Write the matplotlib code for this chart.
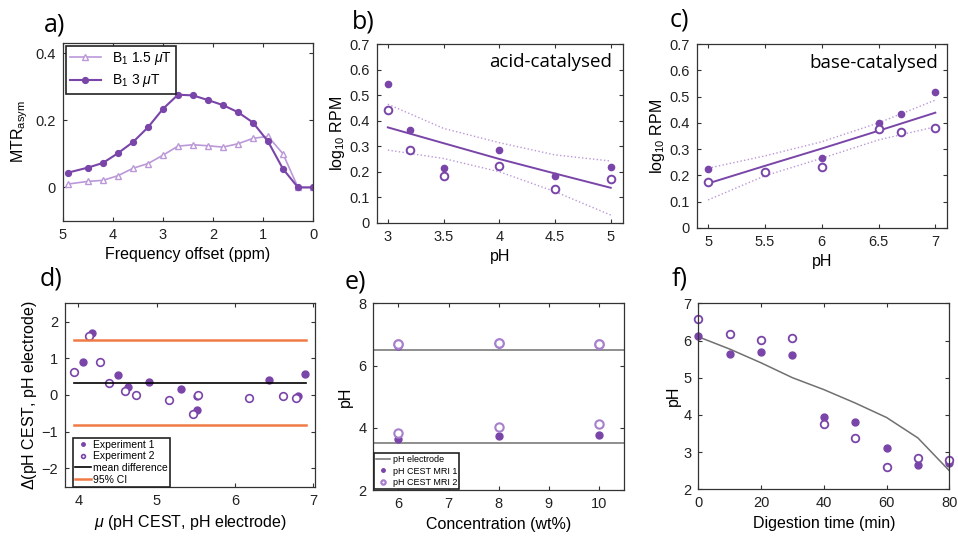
import numpy as np
import matplotlib
matplotlib.use("Agg")
import matplotlib.pyplot as plt

plt.rcParams['font.family'] = ['Liberation Sans', 'DejaVu Sans']
plt.rcParams['mathtext.fontset'] = 'custom'
plt.rcParams['mathtext.rm'] = 'Liberation Sans'
plt.rcParams['mathtext.it'] = 'Liberation Sans:italic'

DARK = '#7a45a8'
LIGHT = '#bb98d8'
GREY = '#707070'
ORANGE = '#f07a45'

# a) MTR asymmetry spectra
offset = [4.9, 4.5, 4.2, 3.9, 3.6, 3.3, 3.0, 2.7, 2.4, 2.1, 1.8, 1.5, 1.2, 0.9, 0.6, 0.3, 0.0]
mtr_b1_15 = [0.010, 0.018, 0.021, 0.035, 0.057, 0.071, 0.096, 0.123, 0.127, 0.124, 0.120,
             0.130, 0.146, 0.152, 0.100, 0.0, 0.0]
mtr_b1_3 = [0.044, 0.059, 0.073, 0.102, 0.135, 0.179, 0.234, 0.276, 0.274, 0.260, 0.245,
            0.224, 0.193, 0.137, 0.055, 0.0, 0.0]

# b) acid-catalysed exchange
ph_acid = [3, 3.2, 3.5, 4, 4.5, 5]
rpm_acid_1 = [0.544, 0.364, 0.216, 0.285, 0.183, 0.220]
rpm_acid_2 = [0.442, 0.285, 0.183, 0.224, 0.132, 0.170]
fit_acid_x = [3, 3.5, 4, 4.5, 5]
fit_acid = [0.374, 0.312, 0.250, 0.193, 0.137]
fit_acid_hi = [0.465, 0.370, 0.314, 0.266, 0.242]
fit_acid_lo = [0.285, 0.252, 0.200, 0.122, 0.030]

# c) base-catalysed exchange
ph_base = [5, 5.5, 6, 6.5, 6.7, 7]
rpm_base_1 = [0.223, 0.214, 0.267, 0.400, 0.433, 0.517]
rpm_base_2 = [0.173, 0.214, 0.233, 0.377, 0.366, 0.379]
fit_base_x = [5, 5.5, 6, 6.5, 7]
fit_base = [0.169, 0.236, 0.302, 0.370, 0.439]
fit_base_hi = [0.227, 0.274, 0.328, 0.400, 0.487]
fit_base_lo = [0.106, 0.198, 0.265, 0.335, 0.385]

# d) Bland-Altman
mean_1 = [4.06, 4.17, 4.50, 4.63, 4.90, 5.31, 5.52, 5.52, 6.43, 6.80, 6.89]
diff_1 = [0.91, 1.70, 0.55, 0.21, 0.35, 0.15, -0.03, -0.41, 0.41, -0.03, 0.56]
mean_2 = [3.94, 4.14, 4.28, 4.39, 4.59, 4.73, 5.16, 5.46, 5.53, 6.18, 6.61, 6.78]
diff_2 = [0.62, 1.62, 0.91, 0.32, 0.12, -0.01, -0.14, -0.53, -0.01, -0.07, -0.03, -0.07]
mean_diff = 0.34
ci_hi = 1.49
ci_lo = -0.83
ba_span = [3.94, 6.90]

# e) pH vs concentration
conc = [6, 8, 10]
ph_electrode_e = [6.5, 3.5]
ph_mri1_hi = [6.64, 6.70, 6.66]
ph_mri1_lo = [3.63, 3.72, 3.78]
ph_mri2_hi = [6.68, 6.74, 6.70]
ph_mri2_lo = [3.84, 4.03, 4.12]

# f) digestion
t_dig = [0, 10, 20, 30, 40, 50, 60, 70, 80]
ph_electrode_f = [6.10, 5.77, 5.40, 5.00, 4.68, 4.32, 3.93, 3.38, 2.50]
ph_cest_1 = [6.13, 5.63, 5.69, 5.60, 3.94, 3.81, 3.12, 2.66, 2.70]
ph_cest_2 = [6.57, 6.18, 6.01, 6.08, 3.76, 3.37, 2.60, 2.85, 2.79]


def style(ax):
  ax.tick_params(direction='in', top=True, right=True, labelsize=10.5, length=3,
                 color='#333333', labelcolor='#222222', pad=5)
  for s in ax.spines.values():
    s.set_color('#333333')
    s.set_linewidth(0.9)


def panel_letter(x, y, txt):
  fig.text(x / 958, 1 - y / 539, txt, fontsize=18, family='Open Sans', va='center', ha='left')


fig = plt.figure(figsize=(9.58, 5.39), dpi=100)

# a
ax = fig.add_axes([63 / 958, 1 - 221 / 539, 250 / 958, 178 / 539])
ax.plot(offset, mtr_b1_15, '-^', color=LIGHT, mfc='white', mec=LIGHT, ms=5, lw=1.2,
        label=r'B$_1$ 1.5 $\mu$T')
ax.plot(offset, mtr_b1_3, '-o', color=DARK, ms=4.2, lw=1.5, label=r'B$_1$ 3 $\mu$T')
ax.set_xlim(5, 0)
ax.set_ylim(-0.1, 0.43)
ax.set_yticks([0, 0.2, 0.4])
ax.set_yticklabels(['0', '0.2', '0.4'])
ax.set_xticks([5, 4, 3, 2, 1, 0])
ax.set_ylabel(r'MTR$_{\mathrm{asym}}$', fontsize=11.5)
ax.set_xlabel('Frequency offset (ppm)', fontsize=11.5)
leg = ax.legend(loc='upper left', fontsize=10, borderaxespad=0.2, handlelength=2.2,
                fancybox=False, framealpha=1, edgecolor='#222222', borderpad=0.3,
                labelspacing=0.4)
leg.get_frame().set_linewidth(1.2)
style(ax)
panel_letter(44, 25, 'a)')

# b
ax = fig.add_axes([376.7 / 958, 1 - 222.7 / 539, 246.3 / 958, 178.4 / 539])
ax.plot(fit_acid_x, fit_acid_hi, ':', color=LIGHT, lw=1)
ax.plot(fit_acid_x, fit_acid_lo, ':', color=LIGHT, lw=1)
ax.plot(fit_acid_x, fit_acid, '-', color=DARK, lw=1.4)
ax.plot(ph_acid, rpm_acid_1, 'o', color=DARK, ms=4.5)
ax.plot(ph_acid, rpm_acid_2, 'o', mfc='white', mec=DARK, mew=1.4, ms=5.5)
ax.set_xlim(2.9, 5.11)
ax.set_ylim(0, 0.7)
ax.set_xticks([3, 3.5, 4, 4.5, 5])
ax.set_xticklabels(['3', '3.5', '4', '4.5', '5'])
ax.set_yticks(np.arange(0, 0.71, 0.1))
ax.set_yticklabels(['0', '0.1', '0.2', '0.3', '0.4', '0.5', '0.6', '0.7'])
ax.set_ylabel(r'log$_{10}$ RPM', fontsize=11.5, labelpad=2)
ax.set_xlabel('pH', fontsize=11.5)
ax.text(0.955, 0.9, 'acid-catalysed', transform=ax.transAxes, ha='right', va='center',
        fontsize=13.5, family='Open Sans')
style(ax)
panel_letter(352, 22, 'b)')

# c
ax = fig.add_axes([696.7 / 958, 1 - 227.7 / 539, 250 / 958, 183.4 / 539])
ax.plot(fit_base_x, fit_base_hi, ':', color=LIGHT, lw=1)
ax.plot(fit_base_x, fit_base_lo, ':', color=LIGHT, lw=1)
ax.plot(fit_base_x, fit_base, '-', color=DARK, lw=1.4)
ax.plot(ph_base, rpm_base_1, 'o', color=DARK, ms=4.5)
ax.plot(ph_base, rpm_base_2, 'o', mfc='white', mec=DARK, mew=1.4, ms=5.5)
ax.set_xlim(4.9, 7.1)
ax.set_ylim(0, 0.7)
ax.set_xticks([5, 5.5, 6, 6.5, 7])
ax.set_xticklabels(['5', '5.5', '6', '6.5', '7'])
ax.set_yticks(np.arange(0, 0.71, 0.1))
ax.set_yticklabels(['0', '0.1', '0.2', '0.3', '0.4', '0.5', '0.6', '0.7'])
ax.set_ylabel(r'log$_{10}$ RPM', fontsize=11.5, labelpad=2)
ax.set_xlabel('pH', fontsize=11.5)
ax.text(0.965, 0.9, 'base-catalysed', transform=ax.transAxes, ha='right', va='center',
        fontsize=13.5, family='Open Sans')
style(ax)
panel_letter(670, 20, 'c)')

# d
ax = fig.add_axes([65 / 958, 1 - 486.7 / 539, 250 / 958, 183.4 / 539])
ax.plot(mean_1, diff_1, 'o', color=DARK, ms=5, label='Experiment 1')
ax.plot(mean_2, diff_2, 'o', mfc='white', mec=DARK, mew=1.2, ms=5.5, label='Experiment 2')
ax.plot(ba_span, [mean_diff, mean_diff], '-', color='black', lw=1.2, label='mean difference')
ax.plot(ba_span, [ci_hi, ci_hi], '-', color=ORANGE, lw=1.8, label='95% CI')
ax.plot(ba_span, [ci_lo, ci_lo], '-', color=ORANGE, lw=1.8)
ax.set_xlim(3.83, 7.02)
ax.set_ylim(-2.5, 2.5)
ax.set_xticks([4, 5, 6, 7])
ax.set_yticks([-2, -1, 0, 1, 2])
ax.set_ylabel(r'$\Delta$(pH CEST, pH electrode)', fontsize=11.5, labelpad=2)
ax.set_xlabel(r'$\mu$ (pH CEST, pH electrode)', fontsize=11.5)
leg = ax.legend(loc='lower left', bbox_to_anchor=(0.03, 0.0), fontsize=7.5, fancybox=False,
                framealpha=1, edgecolor='#222222', borderpad=0.2, handlelength=1.6,
                handletextpad=0.2, labelspacing=0.15, markerscale=0.5, borderaxespad=0)
leg.get_frame().set_linewidth(1.2)
style(ax)
panel_letter(40, 279, 'd)')

# e
ax = fig.add_axes([373.3 / 958, 1 - 490 / 539, 250.7 / 958, 186.7 / 539])
ax.axhline(ph_electrode_e[0], color=GREY, lw=1.1, label='pH electrode')
ax.axhline(ph_electrode_e[1], color=GREY, lw=1.1)
ax.plot(conc, ph_mri1_hi, 'o', color=DARK, ms=5, label='pH CEST MRI 1')
ax.plot(conc, ph_mri1_lo, 'o', color=DARK, ms=5)
ax.plot(conc, ph_mri2_hi, 'o', mfc='white', mec='#a77fcc', mew=1.6, ms=6.2, label='pH CEST MRI 2')
ax.plot(conc, ph_mri2_lo, 'o', mfc='white', mec='#a77fcc', mew=1.5, ms=6)
ax.set_xlim(5.5, 10.5)
ax.set_ylim(2, 8)
ax.set_xticks([6, 7, 8, 9, 10])
ax.set_yticks([2, 4, 6, 8])
ax.set_ylabel('pH', fontsize=11.5)
ax.set_xlabel('Concentration (wt%)', fontsize=11.5)
leg = ax.legend(loc='lower left', bbox_to_anchor=(0.0, 0.0), fontsize=6.5, fancybox=False,
                framealpha=1, edgecolor='#222222', borderpad=0.25, handlelength=1.5,
                handletextpad=0.3, labelspacing=0.25, markerscale=0.5, borderaxespad=0.1)
leg.get_frame().set_linewidth(1.2)
style(ax)
panel_letter(345, 282, 'e)')

# f
ax = fig.add_axes([698.3 / 958, 1 - 489.3 / 539, 251 / 958, 186 / 539])
ax.plot(t_dig, ph_electrode_f, '-', color=GREY, lw=1.1)
ax.plot(t_dig, ph_cest_1, 'o', color=DARK, ms=5)
ax.plot(t_dig, ph_cest_2, 'o', mfc='white', mec=DARK, mew=1.3, ms=5.5)
ax.set_xlim(0, 80)
ax.set_ylim(2, 7)
ax.set_xticks([0, 20, 40, 60, 80])
ax.set_yticks([2, 3, 4, 5, 6, 7])
ax.set_ylabel('pH', fontsize=11.5, labelpad=2)
ax.set_xlabel('Digestion time (min)', fontsize=11.5)
style(ax)
for m in ax.lines[1:]:
  m.set_clip_on(False)
panel_letter(672, 279, 'f)')

fig.savefig('out.png', dpi=100)
